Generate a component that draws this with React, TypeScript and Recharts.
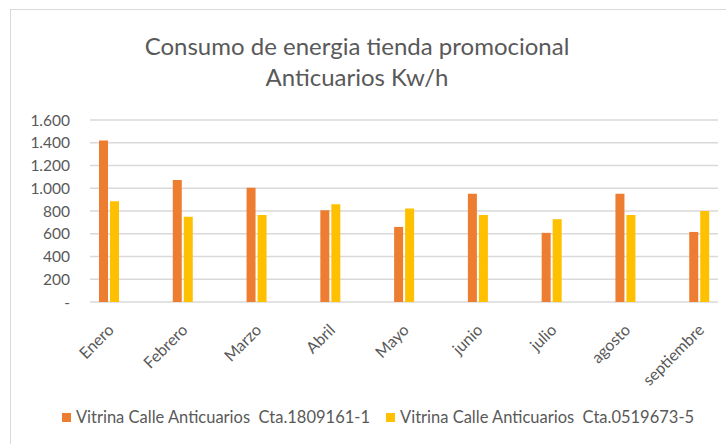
import { Bar, BarChart, CartesianGrid, XAxis, YAxis } from "recharts";

const months = ["Enero", "Febrero", "Marzo", "Abril", "Mayo", "junio", "julio", "agosto", "septiembre"];
const cta1809 = [1420, 1072, 1005, 807, 660, 952, 608, 952, 616];
const cta0519 = [886, 749, 764, 860, 822, 764, 728, 764, 799];
const yTicks = [0, 200, 400, 600, 800, 1000, 1200, 1400, 1600];

const seriesNames = [
  "Vitrina Calle Anticuarios  Cta.1809161-1",
  "Vitrina Calle Anticuarios  Cta.0519673-5",
];
const colors = ["#ED7D31", "#FFC000"];

const data = months.map((m, i) => ({ month: m, a: cta1809[i], b: cta0519[i] }));

const font = "Lato, 'Noto Sans', sans-serif";
const textColor = "#595959";

const fmt = (v: number) =>
  v === 0 ? "-" : String(v).replace(/\B(?=(\d{3})+(?!\d))/g, ".");

const MonthTick = (props: any) => {
  const { x, y, payload } = props;
  const ax = x + 6;
  const ay = y + 21;
  return (
    <text
      x={ax}
      y={ay}
      textAnchor="end"
      fill={textColor}
      fontSize={16}
      fontFamily={font}
      transform={`rotate(-45, ${ax}, ${ay})`}
    >
      {payload.value}
    </text>
  );
};

const App = () => {
  return (
    <div
      style={{
        position: "absolute",
        left: 0,
        top: 0,
        width: 726,
        height: 444,
        background: "#fff",
        overflow: "hidden",
        fontFamily: font,
      }}
    >
      <div
        style={{
          position: "absolute",
          left: 10,
          top: 9,
          width: 740,
          height: 460,
          border: "1px solid #D9D9D9",
        }}
      />
      <div
        style={{
          position: "absolute",
          left: 0,
          top: 30,
          width: 714,
          textAlign: "center",
          fontSize: 24,
          lineHeight: "31px",
          color: textColor,
        }}
      >
        Consumo de energia tienda promocional
        <br />
        Anticuarios Kw/h
      </div>
      <div style={{ position: "absolute", left: 0, top: 0 }}>
        <BarChart
          width={726}
          height={444}
          data={data}
          margin={{ top: 120, right: 8, bottom: 82, left: 10 }}
          barSize={9}
          barGap={2}
        >
          <CartesianGrid horizontal vertical={false} stroke="#D9D9D9" strokeWidth={1.3} />
          <XAxis
            dataKey="month"
            height={60}
            axisLine={false}
            tickLine={false}
            interval={0}
            padding={{ left: -18, right: -18 }}
            tick={<MonthTick />}
          />
          <YAxis
            width={80}
            domain={[0, 1600]}
            ticks={yTicks}
            interval={0}
            tickFormatter={fmt}
            axisLine={false}
            tickLine={false}
            tickMargin={14}
            tick={{ fill: textColor, fontSize: 15.5, fontFamily: font }}
          />
          <Bar dataKey="a" fill={colors[0]} isAnimationActive={false} />
          <Bar dataKey="b" fill={colors[1]} isAnimationActive={false} />
        </BarChart>
      </div>
      <div
        style={{
          position: "absolute",
          left: 0,
          top: 407,
          width: 756,
          display: "flex",
          justifyContent: "center",
          gap: 16,
          fontSize: 16.5,
          color: textColor,
          whiteSpace: "pre",
        }}
      >
        {seriesNames.map((name, i) => (
          <div key={name} style={{ display: "flex", alignItems: "center", gap: 5 }}>
            <span style={{ width: 9, height: 9, background: colors[i], display: "inline-block" }} />
            <span>{name}</span>
          </div>
        ))}
      </div>
    </div>
  );
};

export default App;
